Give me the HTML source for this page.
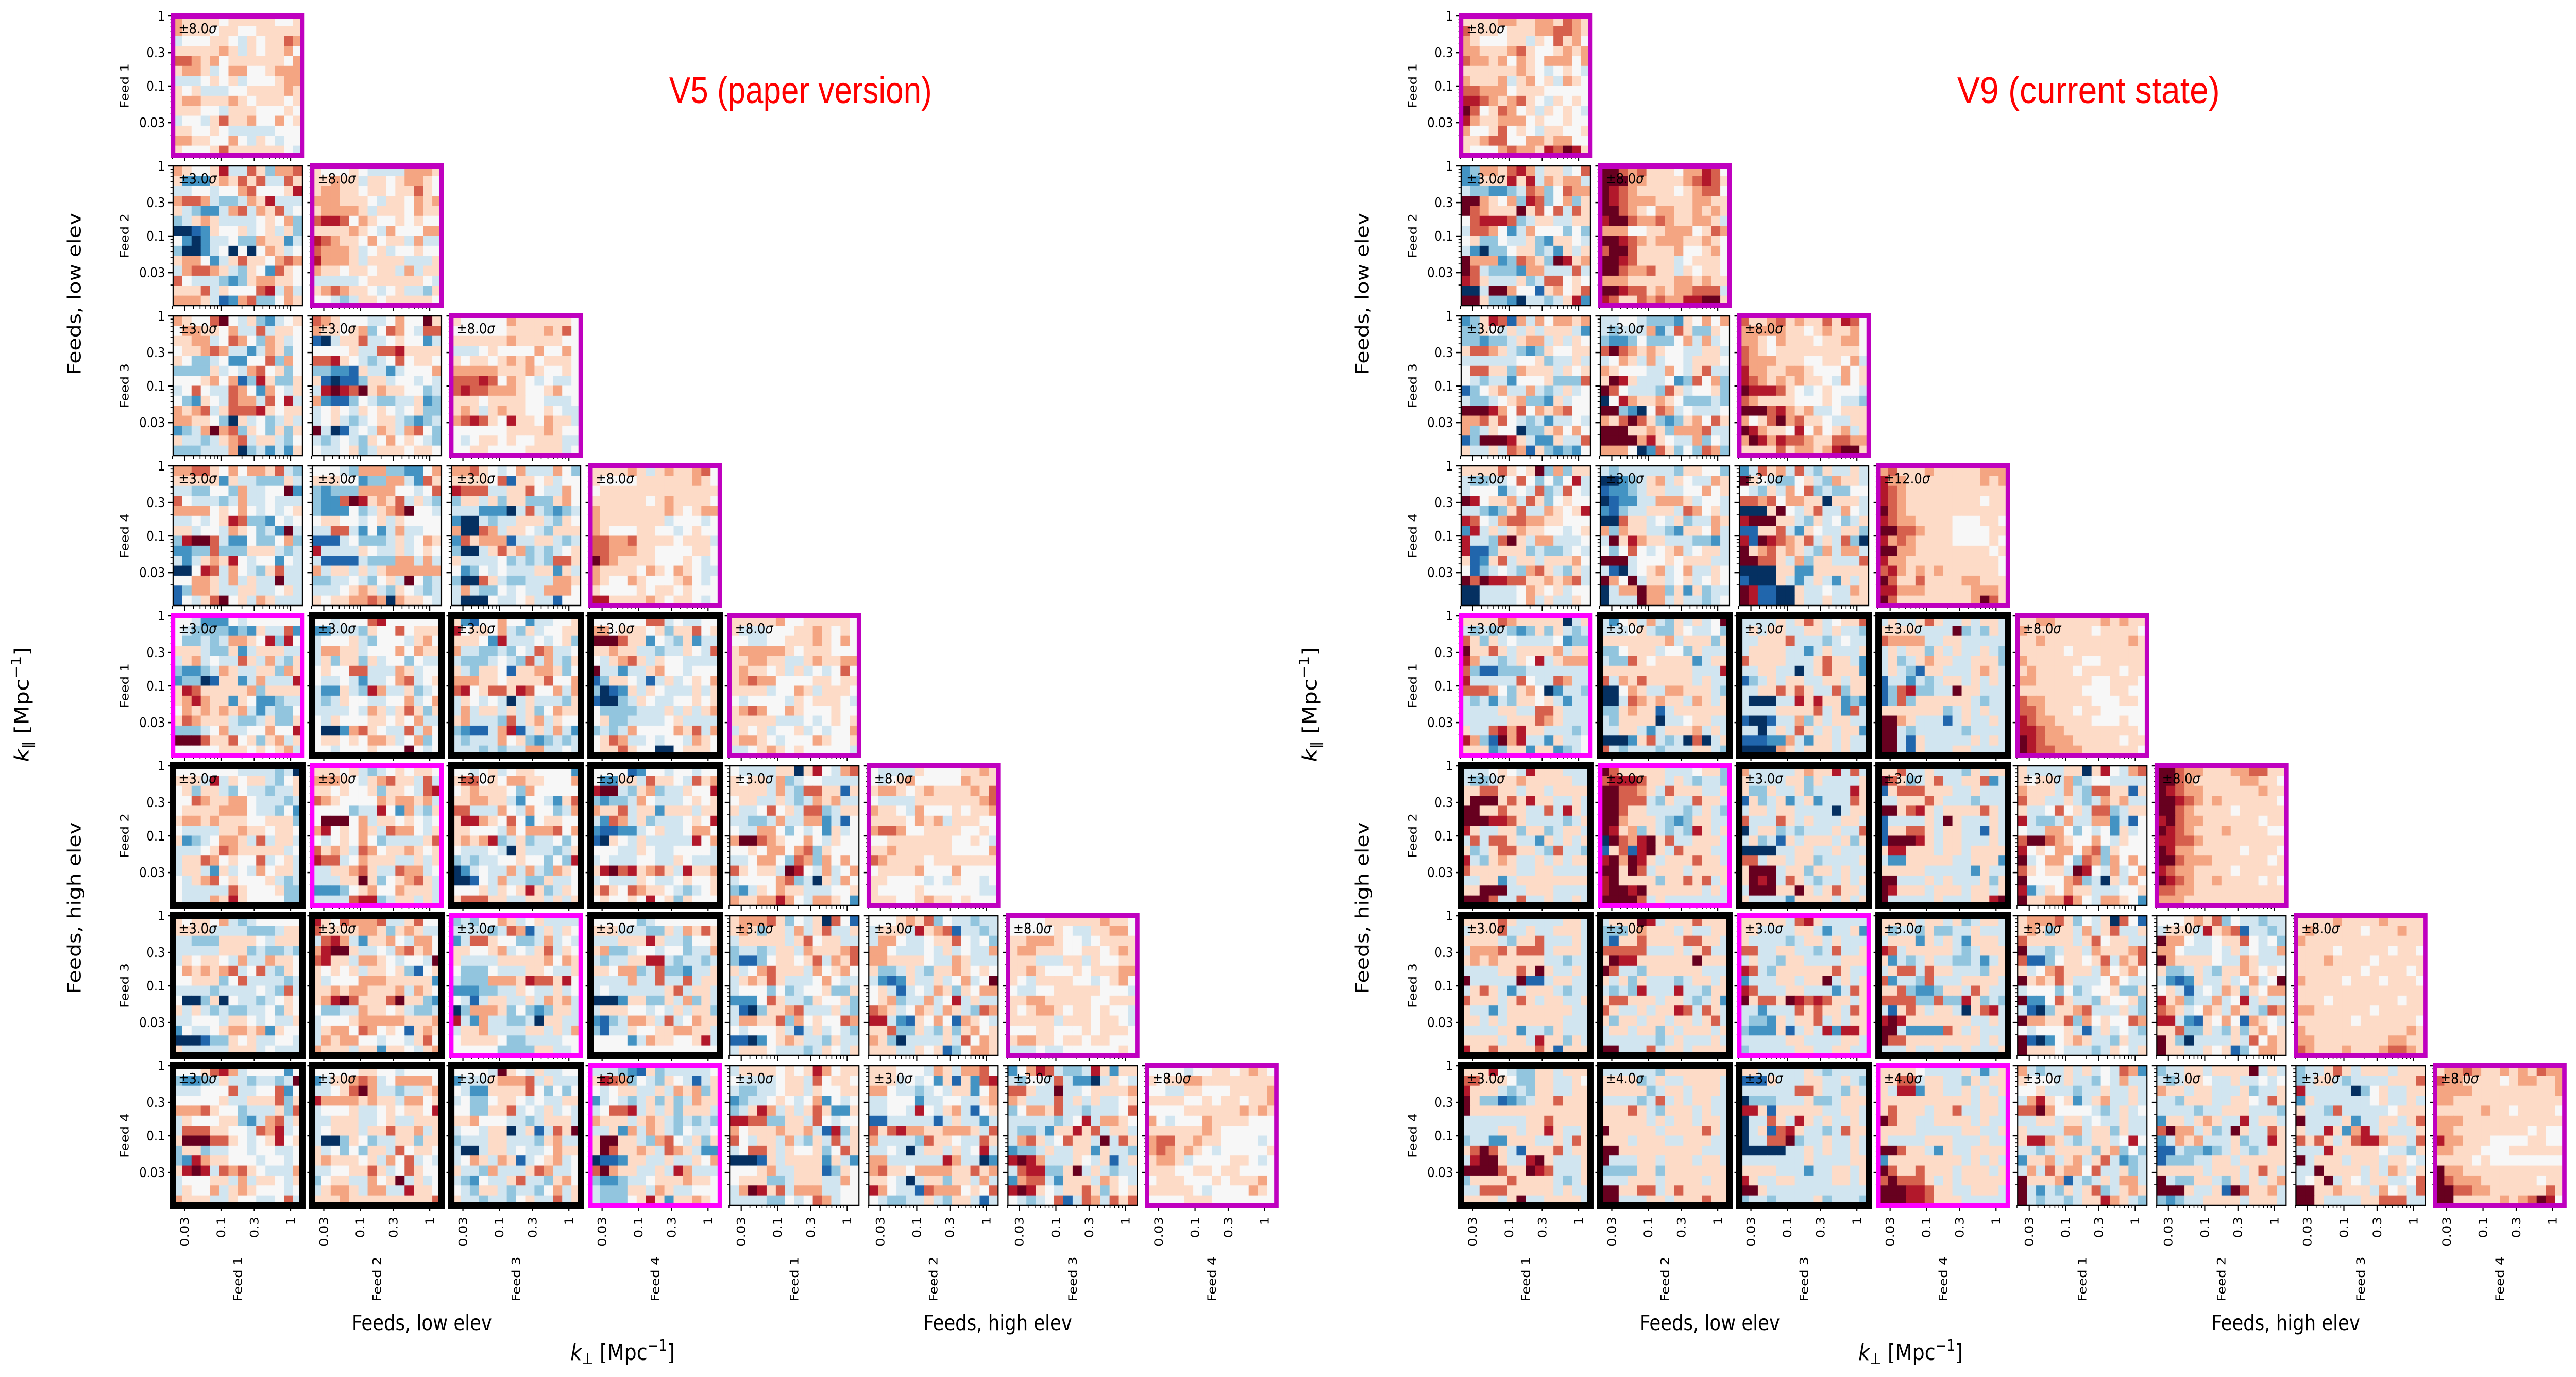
<!DOCTYPE html>
<html><head><meta charset="utf-8"><title>Feed cross-spectra V5 vs V9</title>
<style>html,body{margin:0;padding:0;background:#fff;width:100%;height:100%;overflow:hidden}svg{display:block;width:100vw;height:100vh}</style>
</head><body>
<svg id="fig" xmlns="http://www.w3.org/2000/svg" viewBox="0 0 5776 2672" preserveAspectRatio="none">
<rect width="5776" height="2672" fill="#fff"/>
<g id="gridL"></g>
<g id="gridR"></g>
<text x="1795" y="200" text-anchor="middle" font-family="Liberation Sans, sans-serif" font-size="72" fill="#ff0000" textLength="589" lengthAdjust="spacingAndGlyphs">V5 (paper version)</text>
<text x="4683" y="200" text-anchor="middle" font-family="Liberation Sans, sans-serif" font-size="72" fill="#ff0000" textLength="589" lengthAdjust="spacingAndGlyphs">V9 (current state)</text>
</svg>
<script>
// ---- data: each panel = 14 rows (top row = highest k_par), chars 0..A => -5..+5 colour level ----
const v5Panels = [
["76666566666556","76665665566666","45556654656687","66666764656675","88767566666657","67764577556777","44456564555677","65644455666676","67766676566656","66655466655565","45546866755756","66556544444555","77665575465455","65556866666654"],
["76556944863778","62226768684486","44554557855569","78874334769444","64322478476845","34676444456573","00126556456463","52024453376624","30024505057645","67752468665787","47887643652865","85444323677665","66684655589474","77764127833576"],
["65556544447776","66766466567765","67766566566865","77766654665767","67777646665766","89985765565655","66667654755577","98766575664744","87776456455655","97776466664446","76656656647466","44444566666654","67876654564436","55434665666665"],
["76558A54632456","57766574484665","66774587537645","56678744247635","65334522558375","33336454785635","55567571396336","45854487527546","53265487748594","76784688896566","77665306453464","2347A783653636","64434678466435","33344470342426"],
["876555445755A6","76656735875488","10466844565524","55556448896666","88965434585665","33221644245557","61011366455454","49A98A67665534","72113543344623","45654656545633","45643456643234","A4014547647853","43454365756543","54456346665665"],
["65555576666665","55555566667685","66666676666655","44456555575575","65665676756665","77777666765565","88898576545445","89887776556755","66656666554445","67646766556544","78986596657664","55555566667655","54566565566644","55665555666645"],
["77886575776843","66666264433364","443355374455A2","85444347445444","77775657545456","44545698332545","664554765342A4","39AA8422533573","22338333666434","42467695455254","00598475436844","55776474644A44","13776446644564","15468A56476444"],
["55543777332257","66655233774286","32333777755458","3228A967684643","3222534678A554","56655456465555","44884252474455","11145333464576","94444654464565","41111433377474","74664646777777","3344543564A534","44456764365434","65667787076654"],
["77865457444753","66665816656455","98884466854475","36646366333675","44422204843234","20043446664365","70087466543666","28677714466434","30046867343456","64444534343886","52354544466264","30086433444776","47433545447775","40005445644155"],
["66667646766785","65555666666765","56666666666666","66666656766665","76666666765677","76666666455545","76555665545655","88778666656664","88777665555665","A8766665556545","76666576576544","76557655567545","65555656656555","99666676566545"],
["55422254555555","54333323264482","53343477659395","66643362466644","46745448647436","32234764466376","23301662474449","69866666736666","67976626522344","57676767424335","68766643346336","33345744557559","AAA86685636746","55555666565674"],
["55455589555555","22444365585666","45556435554675","47766455575766","46366364553544","56558844476455","54454244578456","42264397446345","43465544557457","44445476468636","54655566565744","50027865448475","56656577645735","5545556555A545"],
["62155755244556","95665743645566","66652944454563","74433435487445","43334543847436","64366516677635","77766566668557","89568869855747","46545404644436","47466464635766","67444384674655","32114791464742","43444756323434","44434344774454"],
["55555588454455","77566656366856","AAA86625436244","66766443446548","54678646554444","A4424467554555","13665414645657","30126465444646","10034654455656","53333444646467","56334444564444","34347555576847","56874454554765","56686550056665"],
["66666755666665","64445556676565","55445566676575","67777765666555","66776644676677","67665646454585","67877555566566","66664557646665","54555546566654","67875576555655","66666444545656","46564556454557","67765455576556","44567656555554"],
["55555554444340","66649465664356","56366435443446","55876677544434","56666777544352","67767666556663","54444667665665","62345776484664","44456876666645","46687565584564","46642645475664","54678565556434","54444486555633","54447696555533"],
["66656434565665","77765467866484","66565563665489","87655557677674","55553449527436","5AAA5746656545","79565764877546","54565753444468","86764875667656","98845766644646","44667864487745","44466A63567864","22235675576664","44448993466464"],
["55456456655552","68856577665557","56766653755555","66776642554268","88444754755347","69976585256655","66555475777857","67679346344535","54445406444346","34344556553539","02454474743765","00154744336445","55564656963465","68886644664646"],
["55551255455455","52266486654867","9AA43673446559","32334754445656","76684662666466","42874634445659","21122456445775","10654644444957","55544654455554","45444554465444","69A89678649667","45444654456556","68658766543456","56556595636555"],
["54444660695478","65664734554444","66664743886616","56644643476744","64458564883466","44334744772415","54477535452645","7AA87655754655","55657757836555","44577538737575","865664A9547457","45555783406475","32465766444556","76677975477652"],
["54444655556676","54567555557666","67765676666768","54444666666678","76654755565667","66665767466655","78875566665565","55666666655654","66766666655557","87666656666666","56666755575555","66555545465545","65555655555544","66655676656555"],
["65665743455555","66664444333466","44333666654666","44444666343343","46566547447665","57676784584365","55666358444434","44443444454384","50036054434565","64643433445365","44555466545446","25445677672655","00013365644554","64444466645444"],
["96587778446855","86666776367644","48974266754775","79AA6445478675","8966477654554A","65656466563156","64555777666662","66767766674765","679A86668A6632","53344766564334","45556777776667","46775875651676","47677554554685","76664662665467"],
["34355764564444","44443487146465","24886553347454","66556745468465","64444666667576","53335444665446","43337776988695","22233446544645","54146644647674","03777635323664","94274433406644","46674444664647","56666533444455","55555333366445"],
["55555345555555","66644433647686","44466696443556","67334554553447","43446699434434","66577348332446","44447448448466","45444444684664","00026633647364","46665545464663","21347764845766","31446556677664","55552476655694","55555555555555"],
["67778635460851","67636647468446","46666646856644","34434664766678","31135665684768","64578666475675","46768644457544","45553534556336","22258644365563","41036678444643","47766837565587","54555641464543","11025676443644","46665444346546"],
["55567683544344","46664967814434","47754456685453","77544454645447","77666654476444","63346436676565","4212644645745A","56414547636577","56734474594644","87645764764387","99421657517654","66833643636756","76304444648576","66644656135776"],
["55556666667665","55555654466775","66777655456666","67766655665676","66644466465566","66765556566677","65466665545675","54455666665554","66776666655666","65677656656554","66666466656654","55566555656665","67766566566555","44454455555565"],
["55568974555525","3223464434434A","44455584455825","55555644666836","77786553444638","46555663247846","48886655487945","6AAA8865456956","36634455455445","32976655545545","69A94878654447","45556647466546","46557467655545","76664465544584"],
["55555665545555","24667874577775","44568A74434467","97777676647756","45556445656659","44666445644666","45666466866746","40036534466366","64535366485665","67666564758454","44556686458655","356644756A4645","46776477449665","66676666666668"],
["55554A65464455","24446777846444","54226666853535","45335665454466","55336684546454","66755544346664","4554660461486A","34446644436744","40046645445766","45764761456745","64437444687445","43254468443675","54366434435746","64434435644846"],
["44432163444445","69873543654146","54566446476736","24543463634766","45889464636664","76664676434343","44627476435445","6AA66437854636","6A866764876422","01126644644657","8A766446497444","32234456667665","43336647644555","43335696266765"],
["46666565697566","54444566485665","43344566465566","23445654572545","34697464686226","99883366485455","75666766741936","85466474364846","45886465563586","00016466662642","55567446661365","56663346664475","47A96847774455","44443354587455"],
["66655547647785","66645452616289","77544345466257","44555244554467","44554954674156","11444441464424","86897766777648","74444386654486","44540466464594","77444444974402","78665777766867","66540466366474","97544187775658","54334464366414"],
["25798433496266","43554842204654","88644A44566667","76444846464456","35776844344458","44444345947765","43342669684664","4786458664A486","23346446626443","9A974446546146","4899336A464344","27884266647654","9A965466863656","54345814874868"],
["55554556656765","65667766666666","55446655566667","66665565665667","55556666667676","75455576666555","66666676555555","78866766555545","78767654555556","67764555566545","66655665665555","56665556566675","66666545555765","55556665555555"]
];
const v9Panels = [
["66667766776876","86665666778876","76555664658675","77666786556767","87767576577757","66666676545654","76667467564765","88777566655555","99876786546565","A8568756465654","97667775655655","75568565466556","66788557767755","65557877698A96"],
["23776897466458","22666969476774","43322348735877","AA765739835736","A87666A6858486","58999834664466","48875247555353","56335446326654","42033566342646","A777238763A967","A8433327744484","98644463488565","004AA755167568","AA633204434692"],
["AA878666577985","AAA77666678986","A9876666567885","A9877766667766","AA876577667676","9AA87787667764","77755667775687","AA987677766765","8AA86666755675","AA986666456665","AA877866465665","77766666776766","AA988676778884","98668787799AA6"],
["23698174757767","33654646466642","33233467746465","68876432365566","44444455634464","58866376664656","54344255563338","13567447434645","43345673326455","AAA97585767855","77868543424454","73465503367575","13AAA964226448","64464871632325"],
["44554333265757","43444724863365","32235333574745","8A876765544664","45764745546665","76555447546844","6A964445238573","A8544438645563","05976676533343","AA320587454445","768A8632367586","AAA66763777844","AAAA7965447354","77750286353873"],
["86678676686985","77777665676675","77657666566775","87656666666665","87776665566574","97766776555756","98767676654756","A9998654565554","87666655565443","AAA89767445666","7568A786654466","A9766595756746","7A979887668877","66668677679AA6"],
["66668656A37366","43344585353594","45552454834854","A9566748635655","44323684476569","98547887766555","29464676655456","94438A64774445","91136663433454","61268466466675","51345437864364","A8A99886676784","00444457656455","00444457464465"],
["43444444366553","00234674654476","12234664455756","01224477764554","21344666487564","00866454634476","73766443266574","4A697664443324","53585456745664","AAA45556566644","41045674574465","A75A4664564565","0477A773626344","0444A774644345"],
["24867484364464","A6543356437664","54364758343355","88785776606664","0006A546844754","9AAA6643645346","11668426544663","91A98768464830","A6786764374774","AA886473664448","00006622666666","10006424642646","A9110064454476","A9110064464466"],
["78666766666777","97766666666767","98766666666666","98766666666566","A8766666666666","98776666555665","AA887666555566","97876666555565","AA776666666656","97766666666665","89767676666665","A8668666677666","99777666667776","A8666666667A86"],
["66668766666046","43434323636434","86364544445233","A6686466667466","97443465946777","83113334444444","94444485448744","88875367502443","43424366564244","44446644886444","44444666876444","64489796644434","9731A794426445","66623662662345"],
["4256474364645A","44456433654453","66666667466636","33566645536444","43386566662466","66666666664449","84768666664644","00576447766643","00487676647646","33676614666666","43666604456644","44664246667464","00026843408046","84344434446643"],
["44446468645668","46466446646443","44666844434544","46666442464446","86666444686642","44664404686662","13464664466466","44668686448366","40004496966232","44446666846284","10014473646644","44046486464662","11122742664644","00007646664644"],
["46446864464664","66664444A34364","87777446644444","46466364644643","46346766446663","46431664446764","14424346646464","13893344A66444","13836666664344","66666663464644","AA764441464464","AA434444434444","AA416444446464","AA416444664444"],
["66776666676766","76666666566665","66766666666676","66666566666666","76666665566666","67666656666566","77666666556665","66666665556655","87766666555665","88766656655555","98776666555655","99877666666665","A9877766666566","A9887776666665"],
["44456549666444","43346676666644","66886646646666","6AAA6869664464","AA668664484964","AAA99864444346","96446636634664","48488644264646","63468866438443","94367644646466","86666644664444","44662466666666","66AAA446664444","AAA84484464464"],
["A8666664445663","89998664643443","AA887648666446","AA888436448664","AA866444434643","AA766643236644","A9673643439646","0A879A68446664","16819A64866644","9A7A9646668664","AA6A8466646666","9A666636686846","9AA9A666666464","AAAA8464444444"],
["74444467669484","64444663644446","63364463444496","16346246244486","46646644440466","84448646444664","04663434446448","46341646664636","00004466446444","88466466344446","6AAA4663664644","6A9A4864344646","4AAA66A6468664","64444266664646"],
["66844644436466","A8634684466824","16888666446444","44666864443444","AA689646666864","1444464A644464","16688646644164","1AAA9646644464","69966646646666","42266666446662","66666444442644","AA444646444636","A9666466646646","A444446444669A"],
["64444660695478","65664734554444","76664743886616","86644643476744","64458564883466","94334744772415","54477535452645","8AA87655754655","95657757836555","A4577538737575","865664A9547457","A5555783406475","92465766444556","A6677975477652"],
["AA877666778866","AA876666677665","A9877666666766","AA987676666665","AA876666566666","9A877666666566","A9876667666655","99887666666666","A9776666656665","AA877766666656","98776666566666","A9876676666565","88776666666666","77766666666666"],
["66668644444664","46668446446664","66664366844464","47778688846664","67676666644344","44446686A64464","A44444A1146644","46864246664344","86664686466446","64424666666644","66464666666444","44446624436444","66664664966364","96686666861666"],
["4666A946668666","33367666464466","31668666688664","88888444646844","6A99666666A666","A8443666666444","64636444346646","43439444944366","68866646643462","86446466984864","63664664664684","46646636466646","44444434644464","AA444846646666"],
["66666489644444","66444466424462","64444346646444","88446644348446","46443664444666","98436666668644","244466466A4646","98444664442486","A6886A98986646","44244486866486","43326466846466","32226146492996","44444664444664","34444466446644"],
["66664664634664","63443633446444","46662646426664","98466666434666","62434644334246","46884866444366","82443844466664","66832236648644","88883383396343","41686466406894","9A966666664464","AA422228646444","A8866666666464","44464464464446"],
["67778635460851","67636647468446","86666646856644","A4434664766678","81135665684768","64578666475675","A6768644457544","45553534556336","A2258644365563","41036678444643","A7766837565587","54555641464543","A1025676443644","A6665444346546"],
["55567683544344","46664967814434","A7754456685453","77544454645447","A7666654476444","63346436676565","4212644645745A","56414547636577","96734474594644","87645764764387","99421657517654","66833643636756","A6304444648576","A6644656135776"],
["66667666676666","67666665666766","76666666666666","66665666665665","66676666566666","66666665666656","76666566656665","66666666666666","66656666666566","77666666566666","66666656666665","76666666666676","77666666667766","87666766678876"],
["66695433664666","88666533664465","96664343664466","A6331234668666","A6666666666666","44444446686666","44446646696446","34422666446486","68A86416668466","49AA6449A64446","AAAA866A984446","36666866664346","44888666664644","666646A4466664"],
["44444436666666","66663464466664","66666346646664","44443484646644","66686436664644","66666464664664","A6666646666864","66646664466644","AA666666666444","A4446646664664","33336636666666","44466646666466","AA668846866666","AA444664666866"],
["66444446434444","11164446644643","44444488644364","03334446334666","99616666644664","04486496464464","04618964434866","04488A34464464","00000446464464","44444446444466","66664442446646","96446644446646","AA644444444444","34434444634443"],
["66665444464246","66884664436466","64992664464646","66666666664664","68666466844664","A8664466664644","66664444466446","64444666444644","AA866426446666","26666666646464","A8668666466646","8A888646466666","AAA99866446664","AAA99866644444"],
["74344646454872","65554644354744","55644434464464","47965624674464","88A75555434645","44664664544644","64444774663644","69976434664595","44346666367353","26674674684234","47486775844634","A6667143464774","A4243646834676","A4344346697643"],
["3446646666A464","43466544644545","76646644463446","44366644665486","44443446664443","26646764494664","8A774634A64486","24767444634496","11433234643466","13334466466666","66666466646864","A4336643646467","AAA64461A86674","32344666646664"],
["34468646664666","34664344446668","94444403564466","26444444564464","64438444445666","A4444624466468","64496279464446","86864689976648","44496666654436","A4666466646654","44A66664647646","456A4654664458","AA667666475648","AA644446688844"],
["67787667676877","87766665677667","77776666666667","77666666666666","66666766566665","77766666666666","77666666665655","97766655556655","77666555666666","66665655555555","A7766666666666","A8777666666566","AA887766666686","AA666667678A95"]
];
const v5Sigma = ["8.0","3.0","8.0","3.0","3.0","8.0","3.0","3.0","3.0","8.0","3.0","3.0","3.0","3.0","8.0","3.0","3.0","3.0","3.0","3.0","8.0","3.0","3.0","3.0","3.0","3.0","3.0","8.0","3.0","3.0","3.0","3.0","3.0","3.0","3.0","8.0"];
const v9Sigma = ["8.0","3.0","8.0","3.0","3.0","8.0","3.0","3.0","3.0","12.0","3.0","3.0","3.0","3.0","8.0","3.0","3.0","3.0","3.0","3.0","8.0","3.0","3.0","3.0","3.0","3.0","3.0","8.0","3.0","4.0","3.0","4.0","3.0","3.0","3.0","8.0"];
const feedNames = ["Feed 1","Feed 2","Feed 3","Feed 4","Feed 1","Feed 2","Feed 3","Feed 4"];
const yTicks = [1, 0.3, 0.1, 0.03];
const yTickLabels = ["1","0.3","0.1","0.03"];
const xTicks = [0.03, 0.1, 0.3, 1];
const xTickLabels = ["0.03","0.1","0.3","1"];
const minorTicks = [0.02,0.04,0.05,0.06,0.07,0.08,0.09,0.2,0.4,0.5,0.6,0.7,0.8,0.9];
const palette = ["#053061","#2166ac","#4393c3","#92c5de","#d1e5f0","#f7f7f7","#fddbc7","#f4a582","#d6604d","#b2182b","#67001f"];

const NS = "http://www.w3.org/2000/svg";
const AX_W = 290, AX_H = 271, PITCH_X = 312, PITCH_Y = 291, X0 = 388, Y0 = 31, NC = 14;
function el(tag, attrs, parent){ const e = document.createElementNS(NS, tag); for (const k in attrs) e.setAttribute(k, attrs[k]); if (parent) parent.appendChild(e); return e; }
function xScale(k, x0){ return x0 + 26 + (Math.log10(k) - Math.log10(0.03)) * 156; }
function yScale(k, y0){ return y0 - Math.log10(k) * 136; }
const FONT = "DejaVu Sans, Liberation Sans, sans-serif";

function drawGrid(g, panels, sigmas, dx){
  let idx = 0;
  for (let r = 0; r < 8; r++){
    for (let c = 0; c <= r; c++){
      const x0 = X0 + dx + c * PITCH_X, y0 = Y0 + r * PITCH_Y;
      const pg = el("g", {}, g);
      
      
      const rows = panels[idx] || [];
      const cw = AX_W / NC, ch = AX_H / NC;
      for (let i = 0; i < NC; i++){
        const row = (rows[i] || "").padEnd(NC, "5");
        for (let j = 0; j < NC; j++){
          const v = parseInt(row[j], 11);
          const cell = el("rect", {x: (x0 + j*cw).toFixed(2), y: (y0 + i*ch).toFixed(2), width: (cw+0.6).toFixed(2), height: (ch+0.6).toFixed(2), fill: palette[isNaN(v)?5:v]}, pg);
          
          
        }
      }
      for (const t of yTicks){ const y = yScale(t, y0); el("line", {x1:x0-11, x2:x0, y1:y, y2:y, stroke:"#000", "stroke-width":2.5}, pg); }
      for (const t of minorTicks){ const y = yScale(t, y0); el("line", {x1:x0-6, x2:x0, y1:y, y2:y, stroke:"#000", "stroke-width":1.8}, pg); }
      for (const t of xTicks){ const x = xScale(t, x0); el("line", {x1:x, x2:x, y1:y0+AX_H, y2:y0+AX_H+11, stroke:"#000", "stroke-width":2.5}, pg); }
      for (const t of minorTicks){ const x = xScale(t, x0); el("line", {x1:x, x2:x, y1:y0+AX_H, y2:y0+AX_H+6, stroke:"#000", "stroke-width":1.8}, pg); }
      let stroke = "#000", sw = 2.5;
      if (r === c){ stroke = "#bf00bf"; sw = 10; }
      else if (r >= 4 && c <= 3){ if (c === r - 4){ stroke = "#ff00ff"; sw = 10; } else { stroke = "#000"; sw = 14; } }
      const fr = el("rect", {x:x0, y:y0, width:AX_W, height:AX_H, fill:"none", stroke:stroke, "stroke-width":sw}, pg);
      
      
      const st = el("text", {x:x0+12, y:y0+34, "font-family":FONT, "font-size":28, fill:"#000"}, pg);
      
      
      st.textContent = "\u00b1" + sigmas[idx];
      const ts = el("tspan", {"font-style":"italic"}, st); ts.textContent = "\u03c3";
      if (c === 0){
        yTicks.forEach((t, k) => {
          const tl = el("text", {x:x0-18, y:yScale(t, y0), "text-anchor":"end", "dominant-baseline":"central", "font-family":FONT, "font-size":26}, g);
          
          
          tl.textContent = yTickLabels[k];
        });
        const fx = 288 + dx, fy = y0 + AX_H/2;
        const fl = el("text", {x:fx, y:fy, "text-anchor":"middle", "font-family":FONT, "font-size":26, transform:"rotate(-90 " + fx + " " + fy + ")"}, g);
        
        
        fl.textContent = feedNames[r];
      }
      if (r === 7){
        xTicks.forEach((t, k) => {
          const x = xScale(t, x0), y = y0 + AX_H + 22;
          const tl = el("text", {x:x, y:y, "text-anchor":"end", "dominant-baseline":"central", "font-family":FONT, "font-size":26, transform:"rotate(-90 " + x + " " + y + ")"}, g);
          
          
          tl.textContent = xTickLabels[k];
        });
        const cx = x0 + AX_W/2;
        const fl = el("text", {x:cx, y:2482, "text-anchor":"middle", "dominant-baseline":"central", "font-family":FONT, "font-size":26, transform:"rotate(-90 " + cx + " 2482)"}, g);
        
        
        fl.textContent = feedNames[c];
      }
      idx++;
    }
  }
  const lab = (txt, x, y, rot, name) => {
    const t = el("text", {x:x, y:y, "text-anchor":"middle", "font-family":FONT, "font-size":41}, g);
    if (rot) t.setAttribute("transform", "rotate(-90 " + x + " " + y + ")");
    
    
    t.textContent = txt;
    return t;
  };
  lab("Feeds, low elev", 946+dx, 2581, false, 'x-group-low-elev');
  lab("Feeds, high elev", 2237+dx, 2581, false, 'x-group-high-elev');
  lab("Feeds, low elev", 181+dx, 570, true, 'y-group-low-elev');
  lab("Feeds, high elev", 181+dx, 1762, true, 'y-group-high-elev');
  const kx = el("text", {x:1396+dx, y:2639, "text-anchor":"middle", "font-family":FONT, "font-size":44}, g);
  
  
  const a1 = el("tspan", {"font-style":"italic"}, kx); a1.textContent = "k";
  const a2 = el("tspan", {"font-size":30, dy:8}, kx); a2.textContent = "\u22a5";
  const a3 = el("tspan", {dy:-8}, kx); a3.textContent = " [Mpc";
  const a4 = el("tspan", {"font-size":30, dy:-18}, kx); a4.textContent = "\u22121";
  const a5 = el("tspan", {dy:18}, kx); a5.textContent = "]";
  const yx = 64+dx, yy = 1367;
  const ky = el("text", {x:yx, y:yy, "text-anchor":"middle", "font-family":FONT, "font-size":44, transform:"rotate(-90 " + yx + " " + yy + ")"}, g);
  
  
  const b1 = el("tspan", {"font-style":"italic"}, ky); b1.textContent = "k";
  const b2 = el("tspan", {"font-size":30, dy:8}, ky); b2.textContent = "\u2225";
  const b3 = el("tspan", {dy:-8}, ky); b3.textContent = " [Mpc";
  const b4 = el("tspan", {"font-size":30, dy:-18}, ky); b4.textContent = "\u22121";
  const b5 = el("tspan", {dy:18}, ky); b5.textContent = "]";
}
drawGrid(document.getElementById("gridL"), v5Panels, v5Sigma, 0);
drawGrid(document.getElementById("gridR"), v9Panels, v9Sigma, 2888);
</script>
</body></html>
